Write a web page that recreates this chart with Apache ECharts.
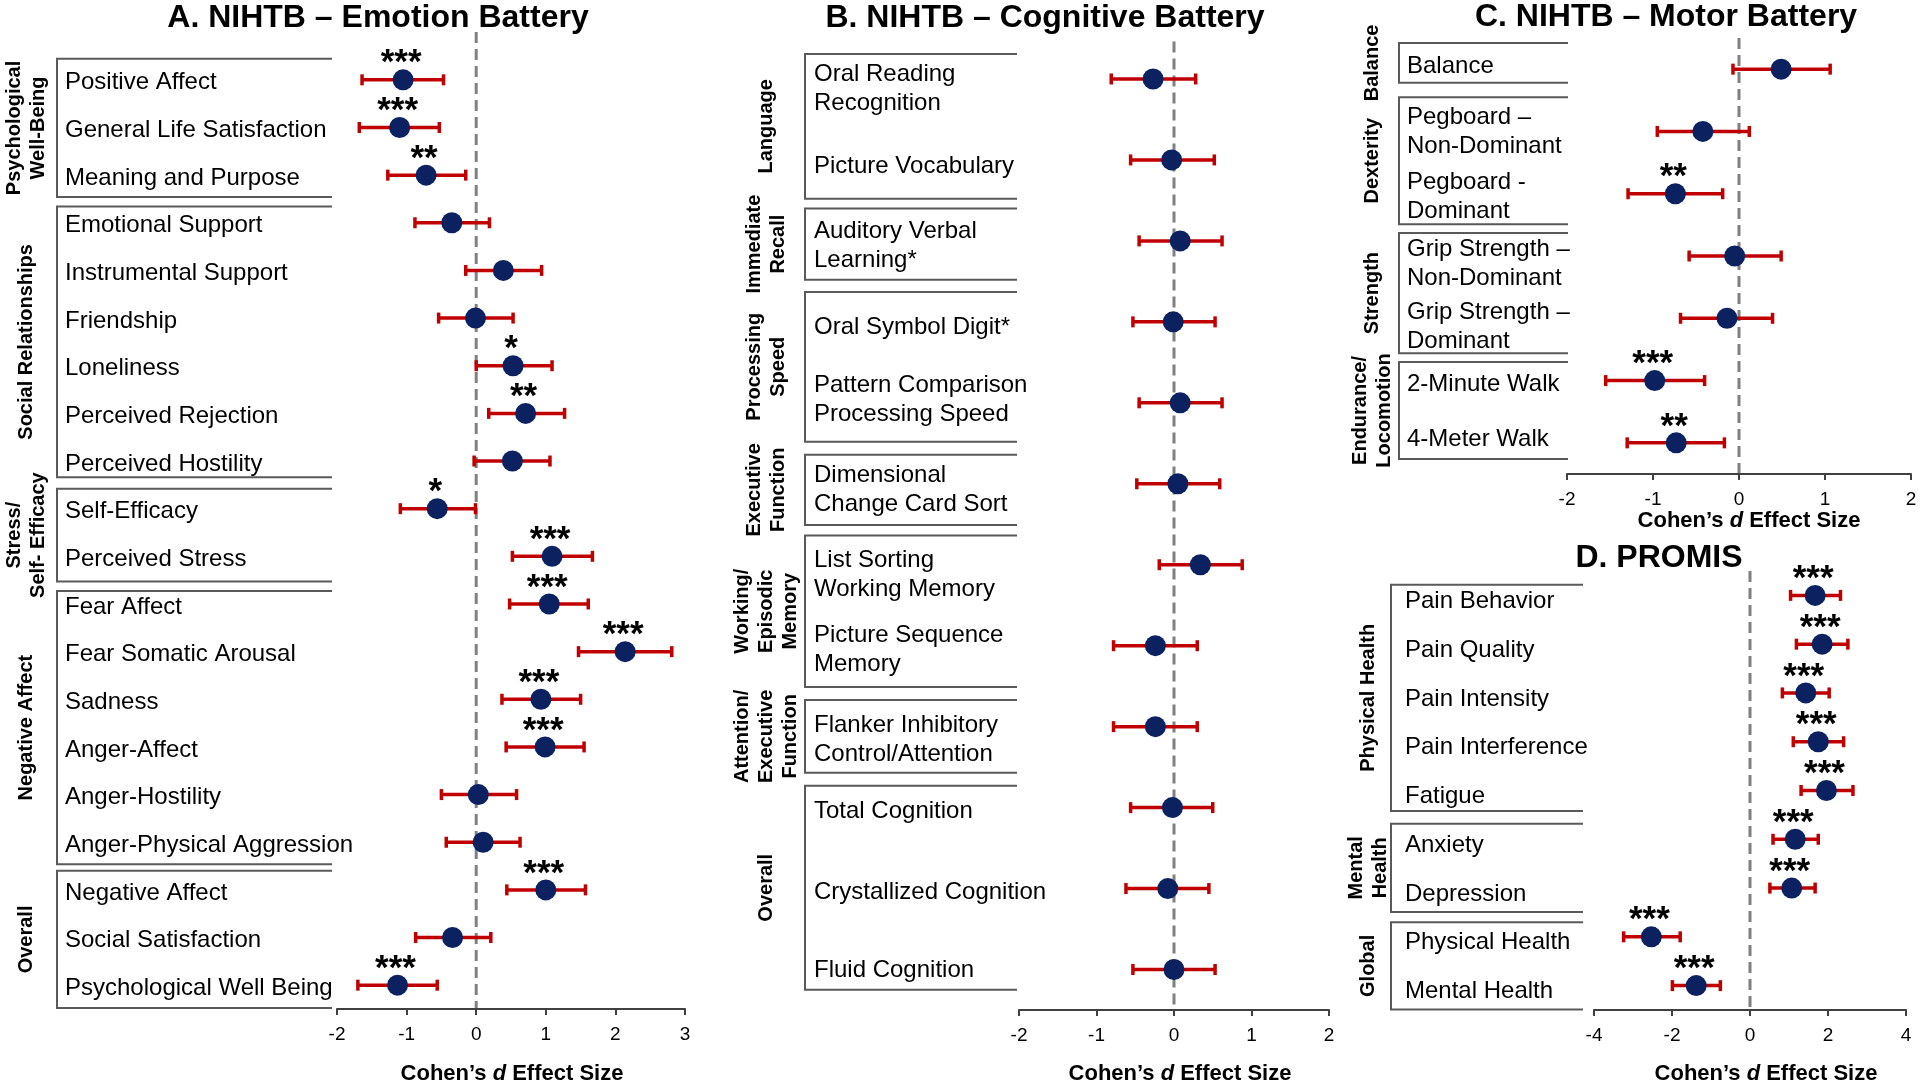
<!DOCTYPE html>
<html><head><meta charset="utf-8">
<script src="https://cdn.jsdelivr.net/npm/echarts/dist/echarts.min.js"></script>
<style>html,body{margin:0;padding:0;background:#fff;}#c{width:1920px;height:1083px;}</style>
</head><body><div id="c"></div>
<script>
// ---------- DATA ----------
// A. NIHTB – Emotion Battery
const aNames = ['Positive Affect','General Life Satisfaction','Meaning and Purpose','Emotional Support','Instrumental Support','Friendship','Loneliness','Perceived Rejection','Perceived Hostility','Self-Efficacy','Perceived Stress','Fear Affect','Fear Somatic Arousal','Sadness','Anger-Affect','Anger-Hostility','Anger-Physical Aggression','Negative Affect','Social Satisfaction','Psychological Well Being'];
const aD  = [-1.05,-1.10,-0.72,-0.35,0.39,-0.01,0.53,0.71,0.52,-0.56,1.09,1.05,2.14,0.93,0.99,0.03,0.10,1.00,-0.34,-1.13];
const aLo = [-1.64,-1.68,-1.27,-0.88,-0.15,-0.54,0.00,0.18,-0.03,-1.09,0.52,0.48,1.47,0.37,0.43,-0.50,-0.43,0.44,-0.87,-1.70];
const aHi = [-0.47,-0.53,-0.15,0.19,0.94,0.53,1.09,1.27,1.06,-0.01,1.67,1.61,2.81,1.50,1.55,0.58,0.63,1.57,0.21,-0.56];
const aStars = ['***','***','**','','','','*','**','','*','***','***','***','***','***','','','***','','***'];
const aGroups = ['Psychological\nWell-Being','Social Relationships','Stress/\nSelf- Efficacy','Negative Affect','Overall'];
const aGroupSizes = [3,6,2,6,3];
const aTicks = [-2,-1,0,1,2,3];

// B. NIHTB – Cognitive Battery
const bNames = ['Oral Reading\nRecognition','Picture Vocabulary','Auditory Verbal\nLearning*','Oral Symbol Digit*','Pattern Comparison\nProcessing Speed','Dimensional\nChange Card Sort','List Sorting\nWorking Memory','Picture Sequence\nMemory','Flanker Inhibitory\nControl/Attention','Total Cognition','Crystallized Cognition','Fluid Cognition'];
const bD  = [-0.27,-0.03,0.08,-0.01,0.08,0.05,0.34,-0.24,-0.24,-0.02,-0.08,0.00];
const bLo = [-0.81,-0.56,-0.45,-0.53,-0.45,-0.48,-0.19,-0.78,-0.78,-0.56,-0.62,-0.53];
const bHi = [0.28,0.52,0.62,0.53,0.62,0.59,0.88,0.30,0.30,0.50,0.45,0.53];
const bStars = ['','','','','','','','','','','',''];
const bGroups = ['Language','Immediate\nRecall','Processing\nSpeed','Executive\nFunction','Working/\nEpisodic\nMemory','Attention/\nExecutive\nFunction','Overall'];
const bGroupSizes = [2,1,2,1,2,1,3];
const bTicks = [-2,-1,0,1,2];

// C. NIHTB – Motor Battery
const cNames = ['Balance','Pegboard –\nNon-Dominant','Pegboard -\nDominant','Grip Strength –\nNon-Dominant','Grip Strength –\nDominant','2-Minute Walk','4-Meter Walk'];
const cD  = [0.49,-0.42,-0.74,-0.05,-0.14,-0.98,-0.73];
const cLo = [-0.07,-0.95,-1.29,-0.58,-0.68,-1.55,-1.30];
const cHi = [1.06,0.12,-0.19,0.49,0.39,-0.40,-0.17];
const cStars = ['','','**','','','***','**'];
const cGroups = ['Balance','Dexterity','Strength','Endurance/\nLocomotion'];
const cGroupSizes = [1,2,2,2];
const cTicks = [-2,-1,0,1,2];

// D. PROMIS
const dNames = ['Pain Behavior','Pain Quality','Pain Intensity','Pain Interference','Fatigue','Anxiety','Depression','Physical Health','Mental Health'];
const dD  = [1.67,1.85,1.43,1.75,1.96,1.16,1.07,-2.53,-1.38];
const dLo = [1.04,1.19,0.83,1.11,1.31,0.59,0.51,-3.24,-1.99];
const dHi = [2.32,2.51,2.03,2.40,2.64,1.75,1.67,-1.79,-0.76];
const dStars = ['***','***','***','***','***','***','***','***','***'];
const dGroups = ['Physical Health','Mental\nHealth','Global'];
const dGroupSizes = [5,2,2];
const dTicks = [-4,-2,0,2,4];

const titles = ['A. NIHTB – Emotion Battery','B. NIHTB – Cognitive Battery','C. NIHTB – Motor Battery','D. PROMIS'];
const axisTitle = '{n|Cohen’s }{i|d}{n| Effect Size}';

// ---------- LAYOUT / STYLE ----------
const FONT = "'Liberation Sans', Arial, Helvetica, sans-serif";
const DOT = '#0B2160', BAR = '#C00000';
const panels = [
  {names:aNames,d:aD,lo:aLo,hi:aHi,stars:aStars,groups:aGroups,sizes:aGroupSizes,ticks:aTicks,
   grid:{left:337,top:56,width:348,height:953}, labelX:65, shift:[3], bx:57, bEnd:332, gx:26,
   topF:[0.44,0.34,0.42,0.27,0.40], botF:[0.46,0.34,0.53,0.46,0.48], dashExtra:24, tx:378, ty:18, nx:512, ny:1074},
  {names:bNames,d:bD,lo:bLo,hi:bHi,stars:bStars,groups:bGroups,sizes:bGroupSizes,ticks:bTicks,
   grid:{left:1019,top:38.5,width:310,height:971.5}, labelX:814, shift:[10,6,5,6,-3,6,10,4,13,4,4,1], bx:805, bEnd:1017, gx:766,
   topF:[0.31,0.40,0.37,0.36,0.36,0.33,0.27], botF:[0.48,0.48,0.48,0.51,0.51,0.57,0.25], dashExtra:-3, tx:1045, ty:18, nx:1180, ny:1074},
  {names:cNames,d:cD,lo:cLo,hi:cHi,stars:cStars,groups:cGroups,sizes:cGroupSizes,ticks:cTicks,
   grid:{left:1567,top:38,width:344,height:436}, labelX:1407, shift:[-3,0,3,8,9,4,-3], bx:1399, bEnd:1568, gx:1372,
   topF:[0.42,0.55,0.37,0.30], botF:[0.22,0.49,0.56,0.26], dashExtra:0, tx:1666, ty:17, nx:1749, ny:521},
  {names:dNames,d:dD,lo:dLo,hi:dHi,stars:dStars,groups:dGroups,sizes:dGroupSizes,ticks:dTicks,
   grid:{left:1594,top:571,width:312,height:439}, labelX:1405, shift:[6], bx:1391, bEnd:1583, gx:1368,
   topF:[0.22,0.32,0.30], botF:[0.42,0.49,0.49], dashExtra:0, tx:1659, ty:558, nx:1766, ny:1074}
];

function errRender(params, api){
  const y = api.value(2);
  const a = api.coord([api.value(0), y]);
  const b = api.coord([api.value(1), y]);
  const st = {stroke:BAR, lineWidth:3.5};
  return {type:'group', children:[
    {type:'line', shape:{x1:a[0],y1:a[1],x2:b[0],y2:b[1]}, style:st},
    {type:'line', shape:{x1:a[0],y1:a[1]-5.5,x2:a[0],y2:a[1]+5.5}, style:st},
    {type:'line', shape:{x1:b[0],y1:b[1]-5.5,x2:b[0],y2:b[1]+5.5}, style:st}
  ]};
}

const chart = echarts.init(document.getElementById('c'), null, {renderer:'canvas'});
const option = {animation:false, backgroundColor:'#fff', grid:[], xAxis:[], yAxis:[], series:[]};
panels.forEach((p,i)=>{
  option.grid.push(Object.assign({containLabel:false}, p.grid));
  option.xAxis.push({type:'value', gridIndex:i, min:p.ticks[0], max:p.ticks[p.ticks.length-1],
    interval:p.ticks[1]-p.ticks[0],
    axisLine:{show:true, onZero:false, lineStyle:{color:'#404040', width:2}},
    axisTick:{show:true, length:6, lineStyle:{color:'#404040', width:2}},
    splitLine:{show:false},
    axisLabel:{fontSize:19, color:'#000', margin:16, fontFamily:FONT}
  });
  option.yAxis.push({type:'category', gridIndex:i, data:p.names, inverse:true,
    axisLine:{show:false}, axisTick:{show:false}, splitLine:{show:false}, axisLabel:{show:false}});
  option.series.push({type:'custom', xAxisIndex:i, yAxisIndex:i, renderItem:errRender, z:3,
    encode:{x:[0,1], y:2}, data:p.lo.map((v,k)=>[v,p.hi[k],k])});
  option.series.push({type:'scatter', xAxisIndex:i, yAxisIndex:i, symbol:'circle', symbolSize:21, z:4,
    itemStyle:{color:DOT, opacity:1},
    label:{show:true, position:'inside', offset:[-2,-16], formatter:(q)=>p.stars[q.dataIndex],
      fontSize:35, fontWeight:'bold', color:'#000', fontFamily:FONT},
    emphasis:{disabled:true},
    data:p.d.map((v,k)=>[v,k])});
});
chart.setOption(option);

// category labels, brackets, group labels, zero lines, titles: positioned through the axes
const g = [];
panels.forEach((p,pi)=>{
  const yOf = k => chart.convertToPixel({gridIndex:pi},[0,k])[1];
  const step = yOf(1)-yOf(0);
  const x0 = chart.convertToPixel({gridIndex:pi},[0,0])[0];
  g.push({type:'line', z:1, shape:{x1:x0,y1:p.grid.top-p.dashExtra,x2:x0,y2:p.grid.top+p.grid.height-1},
    style:{stroke:'#808080', lineWidth:3, lineDash:[11,6]}});
  p.names.forEach((nm,k)=>{
    const sh = p.shift.length>1 ? p.shift[k] : p.shift[0];
    g.push({type:'text', z:5, x:p.labelX, y:yOf(k)+sh,
      style:{text:nm, fontSize:24, fontFamily:FONT, fill:'#000', align:'left', verticalAlign:'middle', lineHeight:29}});
  });
  let s = 0;
  p.sizes.forEach((n,gi)=>{
    const top = yOf(s)-p.topF[gi]*step, bot = yOf(s+n-1)+p.botF[gi]*step;
    g.push({type:'polyline', z:1, shape:{points:[[p.bEnd,top],[p.bx,top],[p.bx,bot],[p.bEnd,bot]]},
      style:{stroke:'#5a5a5a', lineWidth:2, fill:null}});
    g.push({type:'text', z:5, x:p.gx, y:(top+bot)/2, rotation:Math.PI/2,
      style:{text:p.groups[gi], fontSize:20, fontWeight:'bold', fontFamily:FONT, fill:'#000',
        align:'center', verticalAlign:'middle', lineHeight:24}});
    s += n;
  });
  g.push({type:'text', z:5, x:p.tx, y:p.ty, style:{text:titles[pi], fontSize:32, fontWeight:'bold', fontFamily:FONT,
    fill:'#000', align:'center', verticalAlign:'middle'}});
  g.push({type:'text', z:5, x:p.nx, y:p.ny, style:{text:axisTitle, align:'center', verticalAlign:'middle',
    rich:{n:{fontSize:22,fontWeight:'bold',fill:'#000',fontFamily:FONT},
          i:{fontSize:22,fontWeight:'bold',fontStyle:'italic',fill:'#000',fontFamily:FONT}}}});
});
chart.setOption({graphic:g});
</script></body></html>
